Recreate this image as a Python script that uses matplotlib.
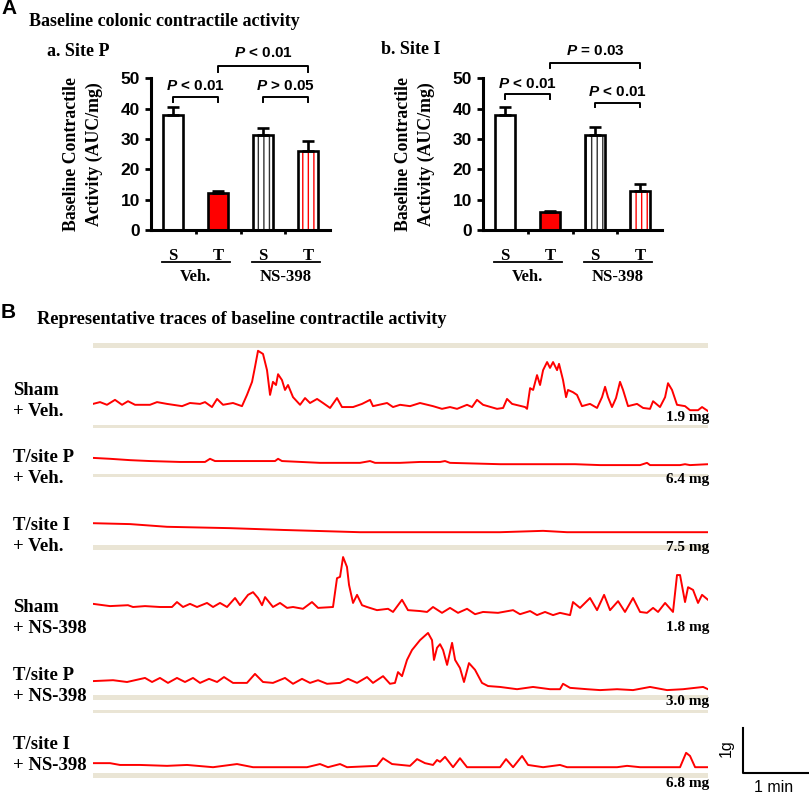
import numpy as np
import matplotlib.pyplot as plt

plt.rcParams['font.family'] = ['Liberation Serif', 'DejaVu Serif']
plt.rcParams['mathtext.fontset'] = 'custom'
plt.rcParams['mathtext.it'] = 'Liberation Sans:italic:bold'
plt.rcParams['mathtext.rm'] = 'Liberation Sans:bold'
plt.rcParams['hatch.linewidth'] = 1.0

# ---------------- data ----------------
groups = ['S', 'T', 'S', 'T']
treatments = ['Veh.', 'NS-398']

site_p_auc = [37.8, 12.3, 31.3, 26.2]
site_p_sem = [2.8, 0.6, 2.2, 3.0]
site_p_tests = [(0, 1, '< 0.01'), (1, 3, '< 0.01'), (2, 3, '> 0.05')]

site_i_auc = [37.8, 5.8, 31.3, 12.9]
site_i_sem = [2.8, 0.3, 2.5, 2.4]
site_i_tests = [(0, 1, '< 0.01'), (1, 3, '= 0.03'), (2, 3, '< 0.01')]

trace_labels = ['Sham\n+ Veh.', 'T/site P\n+ Veh.', 'T/site I\n+ Veh.',
                'Sham\n+ NS-398', 'T/site P\n+ NS-398', 'T/site I\n+ NS-398']
trace_mg = ['1.9 mg', '6.4 mg', '7.5 mg', '1.8 mg', '3.0 mg', '6.8 mg']

# time in s, force in g
sham_veh_t = [0, 6.5, 12.9, 20.3, 26.8, 32.3, 38.8, 52.6, 59.1, 68.3, 82.2, 89.5, 98.8, 103.4,
              109.8, 114.5, 120.0, 129.2, 137.5, 142.1, 146.8, 149.5, 152.3, 156.9, 160.6, 163.4,
              166.1, 168.9, 170.8, 174.4, 177.2, 180.0, 184.6, 191.1, 195.7, 200.3, 206.8, 212.3,
              218.8, 225.2, 229.8, 240.0, 248.3, 255.7, 258.4, 271.4, 276.9, 283.4, 292.6, 301.8,
              313.8, 322.1, 329.5, 336.0, 345.2, 349.8, 354.4, 360.0, 372.9, 378.5, 382.1, 386.8,
              398.8, 400.6, 403.4, 406.2, 409.8, 412.6, 415.4, 419.1, 421.8, 424.6, 428.3, 430.1,
              433.8, 436.6, 438.4, 443.0, 446.7, 451.3, 458.7, 465.2, 469.8, 472.6, 475.3, 479.0,
              482.7, 486.4, 489.2, 493.8, 502.1, 507.7, 514.1, 516.9, 523.3, 528.0, 530.7, 534.4,
              539.0, 546.4, 551.0, 558.4, 562.1, 567.6]
sham_veh_g = [0.18, 0.22, 0.16, 0.27, 0.16, 0.24, 0.16, 0.16, 0.22, 0.18, 0.13, 0.20, 0.18, 0.22,
              0.11, 0.29, 0.16, 0.20, 0.13, 0.38, 0.67, 1.00, 1.36, 1.29, 0.93, 0.38,
              0.67, 0.60, 0.84, 0.71, 0.49, 0.60, 0.33, 0.16, 0.31, 0.20, 0.29, 0.20,
              0.09, 0.31, 0.11, 0.11, 0.18, 0.27, 0.13, 0.20, 0.11, 0.16, 0.13, 0.20,
              0.13, 0.07, 0.11, 0.07, 0.16, 0.11, 0.27, 0.16, 0.07, 0.09, 0.29, 0.18,
              0.11, 0.07, 0.53, 0.49, 0.82, 0.60, 0.93, 1.11, 0.98, 1.11, 0.93, 1.07,
              0.71, 0.33, 0.49, 0.44, 0.38, 0.13, 0.18, 0.09, 0.33, 0.56, 0.33, 0.11,
              0.31, 0.67, 0.49, 0.13, 0.18, 0.09, 0.07, 0.24, 0.11, 0.33, 0.64, 0.49,
              0.16, 0.13, 0.04, 0.04, 0.11, 0.02]

tp_veh_t = [0, 15.7, 34.2, 52.6, 80.3, 103.4, 108.0, 112.6, 135.7, 168.0, 170.8, 174.4, 209.5,
            246.4, 255.7, 260.3, 283.4, 301.8, 320.3, 324.9, 329.5, 375.7, 421.8, 444.9, 468.0,
            504.9, 511.3, 514.1, 541.8, 546.4, 551.0, 567.6]
tp_veh_g = [0.18, 0.16, 0.13, 0.11, 0.09, 0.09, 0.16, 0.11, 0.11, 0.11, 0.16, 0.11, 0.07,
            0.07, 0.11, 0.07, 0.07, 0.09, 0.09, 0.11, 0.07, 0.04, 0.04, 0.04, 0.02,
            0.02, 0.07, 0.02, 0.02, 0.04, 0.02, 0.04]

ti_veh_t = [0, 34.2, 68.3, 126.5, 175.4, 246.4, 301.8, 375.7, 415.4, 437.5, 567.6]
ti_veh_g = [0.24, 0.22, 0.16, 0.13, 0.09, 0.04, 0.04, 0.04, 0.07, 0.04, 0.04]

sham_ns_t = [0, 15.7, 32.3, 36.9, 48.0, 61.8, 72.9, 77.5, 83.1, 89.5, 96.0, 105.2, 110.8, 117.2,
             123.7, 131.1, 135.7, 143.1, 147.7, 152.3, 156.0, 158.8, 166.1, 172.6, 179.1, 184.6,
             193.8, 202.1, 207.7, 221.5, 225.2, 228.0, 230.8, 234.4, 236.3, 240.0, 243.7, 248.3,
             252.9, 262.1, 272.3, 276.9, 285.2, 290.7, 301.8, 308.3, 313.8, 322.1, 329.5, 336.9,
             345.2, 352.6, 360.0, 373.8, 387.7, 394.1, 403.4, 409.8, 417.2, 424.6, 431.0, 440.3,
             443.0, 449.5, 458.7, 465.2, 471.7, 477.2, 484.6, 491.0, 498.4, 504.9, 511.3, 516.9,
             521.5, 528.0, 535.3, 539.0, 541.8, 546.4, 549.2, 553.8, 558.4, 562.1, 567.6]
sham_ns_g = [0.27, 0.22, 0.24, 0.20, 0.22, 0.20, 0.20, 0.31, 0.20, 0.27, 0.20, 0.29, 0.20, 0.29,
             0.20, 0.40, 0.24, 0.47, 0.53, 0.40, 0.24, 0.42, 0.20, 0.29, 0.18, 0.20,
             0.16, 0.31, 0.18, 0.20, 0.84, 0.87, 1.31, 1.09, 0.69, 0.29, 0.47, 0.24,
             0.20, 0.13, 0.16, 0.09, 0.36, 0.13, 0.11, 0.09, 0.20, 0.07, 0.18, 0.07,
             0.16, 0.04, 0.09, 0.07, 0.13, 0.04, 0.11, 0.02, 0.09, 0.02, 0.07, 0.02,
             0.31, 0.18, 0.40, 0.13, 0.47, 0.13, 0.33, 0.09, 0.40, 0.09, 0.07, 0.18,
             0.09, 0.29, 0.09, 0.91, 0.91, 0.31, 0.64, 0.58, 0.29, 0.47, 0.36]

tp_ns_t = [0, 18.5, 31.4, 48.0, 54.5, 61.8, 69.2, 77.5, 84.9, 92.3, 98.8, 107.1, 114.5, 120.9,
           129.2, 142.1, 149.5, 156.9, 166.1, 177.2, 184.6, 192.9, 200.3, 207.7, 216.0, 228.0,
           235.4, 243.7, 252.9, 258.4, 267.7, 274.1, 278.7, 281.5, 285.2, 289.8, 294.4, 301.8,
           309.2, 312.9, 314.7, 317.5, 320.3, 323.1, 326.8, 331.4, 334.2, 338.7, 342.4, 347.0,
           352.6, 359.0, 364.6, 375.7, 391.4, 406.1, 421.8, 431.0, 433.8, 440.3, 456.0, 468.0,
           483.7, 498.4, 514.1, 529.8, 544.6, 563.1, 567.6]
tp_ns_g = [0.22, 0.24, 0.20, 0.29, 0.20, 0.29, 0.18, 0.29, 0.20, 0.29, 0.18, 0.27, 0.20, 0.31,
           0.18, 0.18, 0.38, 0.20, 0.18, 0.29, 0.16, 0.27, 0.18, 0.24, 0.16, 0.18,
           0.27, 0.18, 0.31, 0.18, 0.33, 0.16, 0.18, 0.42, 0.33, 0.69, 0.91, 1.13,
           1.29, 1.13, 0.69, 0.96, 1.04, 0.91, 0.58, 1.07, 0.69, 0.51, 0.20, 0.62,
           0.47, 0.18, 0.11, 0.09, 0.04, 0.09, 0.04, 0.04, 0.16, 0.07, 0.04, 0.02,
           0.04, 0.02, 0.09, 0.02, 0.04, 0.09, 0.04]

ti_ns_t = [0, 15.7, 24.9, 43.4, 68.3, 86.8, 110.8, 132.9, 147.7, 175.4, 197.5, 209.5, 216.9,
           228.0, 234.4, 262.1, 267.7, 276.0, 292.6, 299.1, 306.4, 313.8, 317.5, 320.3, 324.9,
           332.3, 338.7, 345.2, 360.0, 375.7, 381.2, 387.7, 396.0, 401.5, 415.4, 431.0, 437.5,
           461.5, 483.7, 492.9, 504.9, 529.8, 541.8, 547.4, 551.0, 555.7, 567.6]
ti_ns_g = [0.13, 0.13, 0.09, 0.09, 0.07, 0.09, 0.04, 0.11, 0.04, 0.04, 0.04, 0.11, 0.04,
           0.11, 0.04, 0.07, 0.24, 0.11, 0.07, 0.22, 0.13, 0.09, 0.20, 0.16, 0.27,
           0.04, 0.24, 0.04, 0.04, 0.04, 0.22, 0.04, 0.29, 0.09, 0.04, 0.09, 0.04,
           0.04, 0.04, 0.07, 0.04, 0.04, 0.04, 0.36, 0.29, 0.04, 0.04]

traces = [(sham_veh_t, sham_veh_g), (tp_veh_t, tp_veh_g), (ti_veh_t, ti_veh_g),
          (sham_ns_t, sham_ns_g), (tp_ns_t, tp_ns_g), (ti_ns_t, ti_ns_g)]

# ---------------- layout (pixels) ----------------
W, H = 809, 796
SANS = 'Liberation Sans'
RED = '#FF0000'
BAND = '#EAE5D5'


def rect(x0, y0, x1, y1):
    return [x0 / W, 1 - y1 / H, (x1 - x0) / W, (y1 - y0) / H]


fig = plt.figure(figsize=(W / 100, H / 100), dpi=100)
canvas = fig.add_axes([0, 0, 1, 1], zorder=0)
canvas.set_xlim(0, W)
canvas.set_ylim(H, 0)
canvas.axis('off')

# panel headings
canvas.text(1, 9, 'A', family=SANS, weight='bold', fontsize=15, va='center')
canvas.text(29, 21, 'Baseline colonic contractile activity', weight='bold', fontsize=13, va='center')
canvas.text(47, 51, 'a. Site P', weight='bold', fontsize=13, va='center')
canvas.text(381, 50, 'b. Site I', weight='bold', fontsize=13, va='center')
canvas.text(1, 313, 'B', family=SANS, weight='bold', fontsize=15, va='center')
canvas.text(37, 320, 'Representative traces of baseline contractile activity',
            weight='bold', fontsize=13.2, va='center')


def bar_panel(box, xlim, width, vals, errs, tests, bracket_y, ylab_x, line_spans):
    ax = fig.add_axes(rect(*box), zorder=1)
    ax.patch.set_alpha(0)
    x = np.arange(1, 5)
    fills = ['white', RED, 'white', 'white']
    hatch_cols = [None, None, '#333333', RED]
    for xi, v, fc, hc in zip(x, vals, fills, hatch_cols):
        if hc:
            ax.bar(xi, v, width, color='white', edgecolor=hc, hatch='|||', linewidth=0)
            ax.bar(xi, v, width, fill=False, edgecolor='black', linewidth=1.9)
        else:
            ax.bar(xi, v, width, color=fc, edgecolor='black', linewidth=1.9)
    ax.errorbar(x, vals, yerr=[np.zeros(4), errs], fmt='none', ecolor='black',
                elinewidth=1.9, capsize=4, capthick=1.9)
    ax.set_xlim(*xlim)
    ax.set_ylim(0, 50)
    for s in ['top', 'right']:
        ax.spines[s].set_visible(False)
    for s in ['left', 'bottom']:
        ax.spines[s].set_linewidth(2.2)
    ax.set_yticks(range(0, 51, 10))
    ax.tick_params(axis='y', length=4, width=2, pad=4)
    for lab in ax.get_yticklabels():
        lab.set_fontfamily(SANS)
        lab.set_fontweight('bold')
        lab.set_fontsize(12.5)
    ax.set_xticks(x)
    ax.set_xticklabels(groups, fontsize=12, weight='bold')
    ax.tick_params(axis='x', which='major', length=0, pad=13)
    ax.set_xticks([1.5, 2.5, 3.5], minor=True)
    ax.tick_params(axis='x', which='minor', length=3, width=2)

    trans = ax.get_xaxis_transform()
    for (x0, x1), name in zip(line_spans, treatments):
        ax.plot([x0, x1], [-0.21, -0.21], color='black', lw=1.3, transform=trans, clip_on=False)
        ax.text((x0 + x1) / 2, -0.31, name, transform=trans, ha='center', va='center',
                fontsize=12, weight='bold')

    for (i, j, txt), (yb, yl, yt) in zip(tests, bracket_y):
        ax.plot([x[i], x[i], x[j], x[j]], [yl, yb, yb, yl], color='black', lw=1.4, clip_on=False)
        ax.text((x[i] + x[j]) / 2, yt, r'$\mathit{P}$ ' + txt, family=SANS, weight='bold',
                fontsize=11, ha='center', va='center')

    canvas.text(ylab_x, 154, 'Baseline Contractile\nActivity (AUC/mg)', rotation=90,
                ha='center', va='center', weight='bold', fontsize=12.8, linespacing=1.4,
                multialignment='center')
    return ax


bar_panel((151, 78.3, 330, 230), (0.51, 4.49), 0.44, site_p_auc, site_p_sem, site_p_tests,
          [(44.0, 42.2, 47.6), (54.1, 52.2, 58.2), (44.0, 42.2, 47.6)], 83,
          [(0.75, 2.27), (2.75, 4.27)])
bar_panel((483, 78.3, 662, 230), (0.51, 4.49), 0.44, site_i_auc, site_i_sem, site_i_tests,
          [(44.9, 43.2, 48.2), (55.2, 53.5, 58.9), (41.9, 40.6, 45.5)], 415,
          [(0.75, 2.27), (2.75, 4.27)])

# ---------------- traces ----------------
x_left, x_right, y_top = 93, 708, 330
px_per_g = 45.0
t_end = 567.6
tr = fig.add_axes(rect(x_left, y_top, x_right, H), zorder=1)
tr.patch.set_alpha(0)
tr.set_xlim(0, t_end)
tr.set_ylim(0, (H - y_top) / px_per_g)
tr.axis('off')

row_base = [412, 466, 534, 616, 691, 769]
label_y = [401, 468, 536, 618, 686, 755]
mg_y = [417, 480, 547, 628, 702, 783]
for (t, g), base, lab, ly, mg, my in zip(traces, row_base, trace_labels, label_y, trace_mg, mg_y):
    off = (H - base) / px_per_g
    tr.plot(t, np.array(g) + off, color=RED, lw=1.4, solid_joinstyle='round')
    canvas.text(13, ly, lab, weight='bold', fontsize=13.5, va='center', linespacing=1.3)
    canvas.text(709, my, mg, weight='bold', fontsize=11, ha='right', va='center')

bands = [(343, 348), (425, 427.5), (474, 476.5), (545, 550), (695, 699.5), (710, 713), (773, 778)]
for b0, b1 in bands:
    canvas.fill_between([x_left, x_right], b0, b1, color=BAND, lw=0)

# scale bar: 1 g, 1 min
sb_t = 600
sb_g = (H - 773) / px_per_g
tr.plot([sb_t, sb_t, sb_t + 60], [sb_g + 1, sb_g, sb_g], color='black', lw=1.5, clip_on=False)
canvas.text(726, 748, '1g', family=SANS, fontsize=11.5, rotation=90, ha='center', va='center')
canvas.text(774, 787, '1 min', family=SANS, fontsize=11.5, ha='center', va='center')

fig.savefig('out.png', dpi=100)
